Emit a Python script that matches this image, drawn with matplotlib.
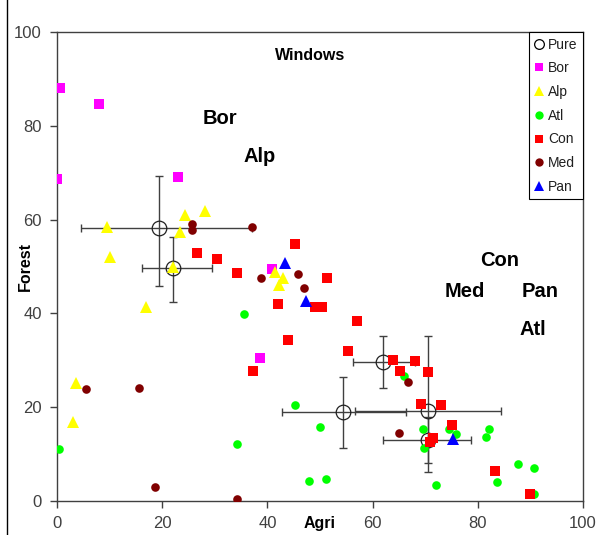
import matplotlib
matplotlib.use("Agg")
import matplotlib.pyplot as plt
from matplotlib.lines import Line2D

plt.rcParams['font.family'] = ['Liberation Sans', 'DejaVu Sans']

# ---------------- data ----------------
pure_x = [19.3, 22.1, 62.0, 54.3, 70.6, 70.6]
pure_y = [58.3, 49.6, 29.7, 18.9, 19.2, 13.1]
pure_xerr_lo = [14.8, 5.9, 5.8, 11.6, 14.0, 8.7]
pure_xerr_hi = [17.8, 7.3, 6.1, 12.0, 13.8, 8.1]
pure_yerr_lo = [12.4, 7.1, 5.5, 7.7, 13.0, 4.9]
pure_yerr_hi = [11.1, 6.6, 5.5, 7.6, 16.0, 4.9]

bor_x = [0.6, 7.9, 0.0, 23.0, 40.8, 38.6]
bor_y = [88.0, 84.6, 68.6, 69.0, 49.4, 30.5]

alp_x = [9.6, 10.1, 24.4, 28.1, 23.3, 22.1, 17.0, 3.7, 3.1, 41.4, 42.9, 42.3]
alp_y = [58.4, 52.0, 61.0, 61.8, 57.3, 50.0, 41.3, 25.1, 16.9, 48.9, 47.6, 46.0]

atl_x = [0.4, 35.6, 34.3, 45.2, 50.0, 48.0, 51.1, 66.0, 69.6, 74.6, 75.9, 69.8,
         72.1, 82.1, 81.5, 87.7, 90.7, 83.6, 90.7]
atl_y = [11.1, 39.9, 12.1, 20.5, 15.8, 4.3, 4.6, 26.7, 15.3, 15.3, 14.2, 11.4,
         3.4, 15.4, 13.6, 7.8, 7.0, 4.1, 1.5]

con_x = [26.6, 30.5, 34.3, 45.2, 51.4, 42.1, 49.0, 50.3, 43.9, 57.0, 55.3, 37.3,
         63.8, 68.1, 65.3, 70.5, 69.2, 73.0, 75.0, 71.4, 70.9, 83.3, 89.9]
con_y = [52.9, 51.6, 48.7, 54.9, 47.6, 42.1, 41.4, 41.4, 34.3, 38.4, 32.0, 27.8,
         30.1, 29.9, 27.7, 27.5, 20.7, 20.5, 16.1, 13.5, 12.6, 6.4, 1.5]

med_x = [25.6, 25.6, 37.1, 38.8, 45.9, 47.0, 5.6, 15.6, 18.6, 34.2, 66.7, 65.1]
med_y = [59.1, 57.8, 58.5, 47.6, 48.5, 45.4, 23.8, 24.0, 3.0, 0.4, 25.3, 14.6]

pan_x = [43.3, 47.3, 75.2]
pan_y = [50.7, 42.7, 13.2]

labels_text = ["Windows", "Bor", "Alp", "Con", "Med", "Pan", "Atl"]
labels_x = [48.1, 31.0, 38.6, 84.2, 77.6, 91.8, 90.5]
labels_y = [95.0, 81.6, 73.5, 51.2, 44.6, 44.6, 36.5]

x_ticks = [0, 20, 40, 60, 80, 100]
y_ticks = [0, 20, 40, 60, 80, 100]

# ---------------- figure ----------------
fig = plt.figure(figsize=(5.96, 5.35), dpi=100)
ax = fig.add_axes([57 / 596, 1 - 501 / 535, (583 - 57) / 596, (501 - 32) / 535])

ecol = '#404040'
ax.errorbar(pure_x, pure_y,
            xerr=[pure_xerr_lo, pure_xerr_hi],
            yerr=[pure_yerr_lo, pure_yerr_hi],
            fmt='none', ecolor=ecol, elinewidth=1.0, capsize=2.8,
            capthick=1.0, zorder=2)
ax.plot(pure_x, pure_y, linestyle='none', marker='o', markersize=10.5,
        markerfacecolor='none', markeredgecolor='#202020',
        markeredgewidth=0.9, zorder=2.5)

ms_sq = 6.5
ax.plot(bor_x, bor_y, 's', color='#FF00FF', markersize=ms_sq, markeredgewidth=0, zorder=3)
ax.plot(alp_x, alp_y, '^', color='#FFFF00', markersize=8, markeredgewidth=0, zorder=3)
ax.plot(atl_x, atl_y, 'o', color='#00FF00', markersize=6.2, markeredgewidth=0, zorder=3)
ax.plot(con_x, con_y, 's', color='#FF0000', markersize=ms_sq, markeredgewidth=0, zorder=3)
ax.plot(med_x, med_y, 'o', color='#800000', markersize=6.2, markeredgewidth=0, zorder=3)
ax.plot(pan_x, pan_y, '^', color='#0000FF', markersize=8, markeredgewidth=0, zorder=3)

for t, x, y in zip(labels_text, labels_x, labels_y):
    fs = 11.5 if t == "Windows" else 14.5
    ax.text(x, y, t, fontsize=fs, fontweight='bold', ha='center', va='center',
            color='black', zorder=4)

ax.set_xlim(0, 100)
ax.set_ylim(0, 100)
ax.set_xticks(x_ticks)
ax.set_yticks(y_ticks)
ax.tick_params(direction='out', length=5, width=1, color='#404040',
               labelsize=12, labelcolor='#404040', pad=6)
for s in ax.spines.values():
    s.set_color('#404040')
    s.set_linewidth(1.0)

ax.set_xlabel('Agri', fontsize=11.5, fontweight='bold')
ax.xaxis.set_label_coords(0.5, -0.033)
ax.set_ylabel('Forest', fontsize=11.5, fontweight='bold')
ax.yaxis.set_label_coords(-0.045, 0.5)

handles = [
    Line2D([], [], linestyle='none', marker='o', markersize=7, markerfacecolor='none',
           markeredgecolor='black', markeredgewidth=0.9, label='Pure'),
    Line2D([], [], linestyle='none', marker='s', markersize=6, color='#FF00FF', markeredgewidth=0, label='Bor'),
    Line2D([], [], linestyle='none', marker='^', markersize=7, color='#FFFF00', markeredgewidth=0, label='Alp'),
    Line2D([], [], linestyle='none', marker='o', markersize=6, color='#00FF00', markeredgewidth=0, label='Atl'),
    Line2D([], [], linestyle='none', marker='s', markersize=6, color='#FF0000', markeredgewidth=0, label='Con'),
    Line2D([], [], linestyle='none', marker='o', markersize=6, color='#800000', markeredgewidth=0, label='Med'),
    Line2D([], [], linestyle='none', marker='^', markersize=7, color='#0000FF', markeredgewidth=0, label='Pan'),
]
leg = ax.legend(handles=handles, loc='upper right', bbox_to_anchor=(1.0, 1.0),
                borderaxespad=0, fancybox=False, shadow=False, framealpha=1,
                edgecolor='black', fontsize=10, handlelength=0.7,
                handletextpad=0.3, labelspacing=0.7, borderpad=0.4)
leg.get_frame().set_linewidth(0.8)
for txt in leg.get_texts():
    txt.set_color('#202020')

# left figure border line
fig.add_artist(Line2D([7 / 596, 7 / 596], [0, 1], color='black', linewidth=1,
                      transform=fig.transFigure))

fig.savefig('out.png', dpi=100)
